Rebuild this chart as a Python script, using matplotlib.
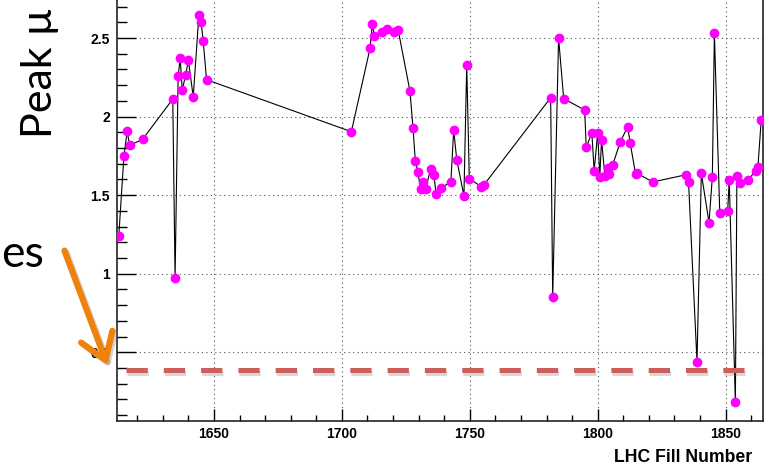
import numpy as np
import matplotlib
matplotlib.use("Agg")
import matplotlib.pyplot as plt
import matplotlib.patheffects as pe
from matplotlib.patches import FancyArrowPatch
from matplotlib.ticker import MultipleLocator

# LHC fill number vs peak pile-up
fill = [1612.8, 1614.8, 1616.1, 1617.0, 1622.1, 1633.9, 1634.8, 1636.0, 1636.8, 1637.6,
        1638.9, 1640.0, 1641.9, 1644.1, 1645.0, 1645.8, 1647.1,
        1703.7, 1711.0, 1711.9, 1712.7, 1715.7, 1717.6, 1720.5, 1722.0,
        1726.6, 1727.8, 1728.7, 1729.7, 1730.8, 1731.6, 1732.7, 1734.7, 1736.0, 1736.8,
        1738.8, 1742.6, 1743.7, 1744.9, 1747.7, 1748.8, 1749.8, 1754.5, 1755.6,
        1781.6, 1782.4, 1784.7, 1786.7, 1794.9, 1795.5, 1797.7, 1798.6, 1800.0, 1800.8,
        1801.5, 1802.8, 1803.9, 1804.5, 1805.8, 1808.8, 1811.7, 1812.7, 1814.8, 1815.4,
        1821.5, 1834.5, 1835.5, 1838.8, 1840.5, 1843.5, 1844.8, 1845.6, 1847.7, 1850.8,
        1851.4, 1853.8, 1854.4, 1855.7, 1858.7, 1861.8, 1862.6, 1863.9]
peak_mu = [1.240, 1.749, 1.908, 1.817, 1.855, 2.112, 0.971, 2.256, 2.373, 2.169,
           2.263, 2.358, 2.126, 2.644, 2.600, 2.479, 2.235,
           1.904, 2.434, 2.587, 2.515, 2.536, 2.559, 2.540, 2.551,
           2.163, 1.927, 1.719, 1.647, 1.537, 1.584, 1.537, 1.668, 1.626, 1.509,
           1.545, 1.586, 1.913, 1.726, 1.495, 2.328, 1.605, 1.554, 1.567,
           2.120, 0.850, 2.500, 2.114, 2.042, 1.804, 1.897, 1.656, 1.897, 1.617,
           1.851, 1.623, 1.675, 1.635, 1.690, 1.838, 1.936, 1.830, 1.635, 1.639,
           1.584, 1.630, 1.582, 0.440, 1.639, 1.325, 1.617, 2.530, 1.388, 1.401,
           1.596, 0.182, 1.622, 1.579, 1.596, 1.656, 1.677, 1.978]

# slide overlay: dashed threshold line
thr_level = 0.385
thr_start, thr_end = 1615.5, 1857.3

plt.rcParams['font.family'] = ['Liberation Sans', 'DejaVu Sans']
plt.rcParams['font.weight'] = 'bold'

W, H = 771, 468
fig = plt.figure(figsize=(W / 100, H / 100), dpi=100)
ax = fig.add_axes([117 / W, 1 - 421 / H, (763 - 117) / W, 421 / H])

ax.plot(fill, peak_mu, '-', color='black', lw=0.8, marker='o', ms=6,
        mfc='#FF00FF', mec='#FF00FF', zorder=3)

ax.set_xlim(1612.1, 1864.6)
ax.set_ylim(0.063, 2.742)

ax.xaxis.set_major_locator(MultipleLocator(50))
ax.xaxis.set_minor_locator(MultipleLocator(10))
ax.yaxis.set_major_locator(MultipleLocator(0.5))
ax.yaxis.set_minor_locator(MultipleLocator(0.1))
ax.yaxis.set_major_formatter(plt.FuncFormatter(lambda v, p: '%g' % v))

ax.tick_params(axis='x', which='major', direction='in', length=9, width=1, pad=4, labelsize=10)
ax.tick_params(axis='x', which='minor', direction='in', length=4.5, width=1)
ax.tick_params(axis='y', which='major', direction='in', length=14, width=1, pad=5, labelsize=10)
ax.tick_params(axis='y', which='minor', direction='in', length=7, width=1)

ax.grid(True, which='major', color='#555555', lw=0.8, linestyle=(0, (1, 3)))
ax.spines['top'].set_visible(False)
for s in ['left', 'bottom', 'right']:
    ax.spines[s].set_linewidth(1.2)
    ax.spines[s].set_color('#222222')

fig.text(752 / W, 1 - 462 / H, 'LHC Fill Number', ha='right', va='baseline',
         fontsize=12.7, fontweight='bold')

# threshold line with shadow
ax.plot([thr_start, thr_end], [thr_level, thr_level], color='#CD5F5A', lw=3.6,
        dashes=(4.26, 3.2), dash_capstyle='butt', zorder=4, clip_on=False,
        path_effects=[pe.SimpleLineShadow(offset=(0.8, -2.0), shadow_color='gray', alpha=0.3),
                      pe.Normal()])

# slide text
fig.text(52 / W, 1 - 138 / H, 'Peak \u00b5', rotation=90, rotation_mode='anchor',
         ha='left', va='baseline', fontsize=31, fontweight='normal', family=['Lato', 'DejaVu Sans'])
fig.text(44 / W, 1 - 267 / H, 'es', ha='right', va='baseline', fontsize=32,
         fontweight='normal', family=['Lato', 'DejaVu Sans'])

arrow = FancyArrowPatch((63.5 / W, 1 - 248 / H), (108.5 / W, 1 - 368 / H),
                        transform=fig.transFigure, arrowstyle='->,head_length=1.8,head_width=1.2',
                        mutation_scale=10, lw=4.5, color='#EE820A', zorder=6,
                        path_effects=[pe.SimpleLineShadow(offset=(1.5, -1.5), shadow_color='gray', alpha=0.35),
                                      pe.Normal()])
fig.add_artist(arrow)

fig.savefig('out.png', dpi=100)
